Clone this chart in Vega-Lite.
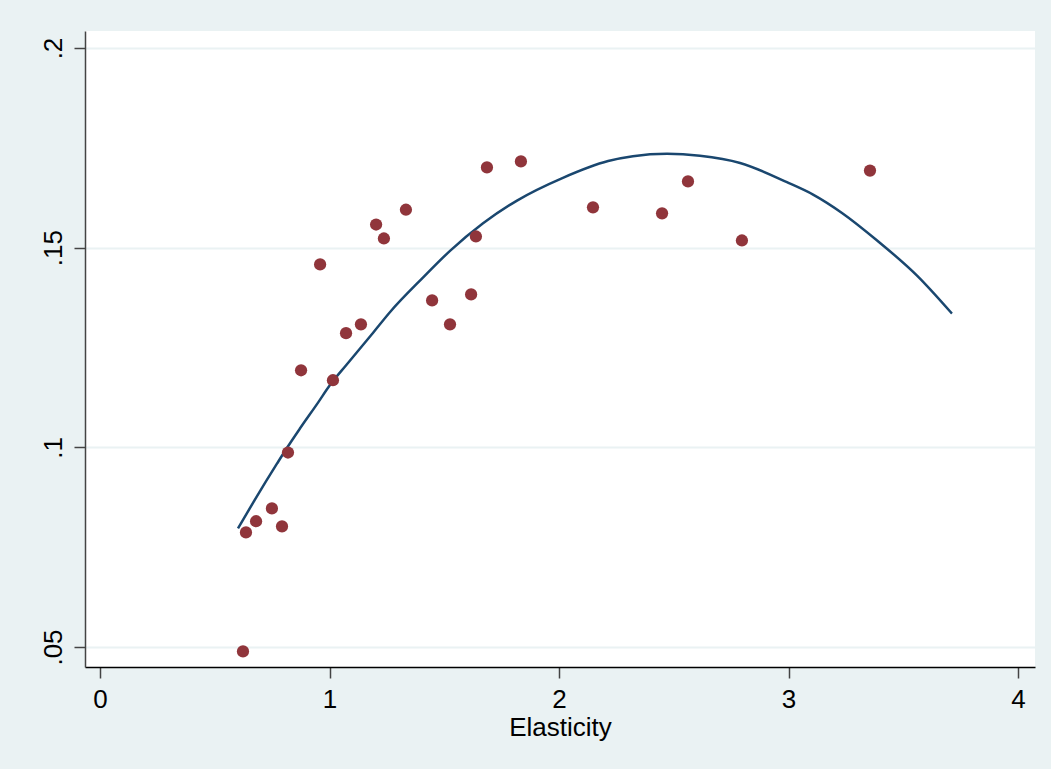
{
  "$schema": "https://vega.github.io/schema/vega-lite/v6.json",
  "width": 950,
  "height": 636,
  "autosize": {"type": "none"},
  "padding": {"left": 85, "top": 31, "right": 16, "bottom": 102},
  "background": "#EAF2F3",
  "config": {
    "view": {"fill": "white", "stroke": null},
    "font": "Liberation Sans"
  },
  "datasets": {
    "points": [
      {"elasticity": 0.623, "value": 0.0489},
      {"elasticity": 0.636, "value": 0.0787},
      {"elasticity": 0.680, "value": 0.0815},
      {"elasticity": 0.749, "value": 0.0847},
      {"elasticity": 0.793, "value": 0.0802},
      {"elasticity": 0.819, "value": 0.0987},
      {"elasticity": 0.876, "value": 0.1193},
      {"elasticity": 0.959, "value": 0.1458},
      {"elasticity": 1.015, "value": 0.1168},
      {"elasticity": 1.072, "value": 0.1286},
      {"elasticity": 1.137, "value": 0.1308},
      {"elasticity": 1.203, "value": 0.1558},
      {"elasticity": 1.237, "value": 0.1523},
      {"elasticity": 1.333, "value": 0.1595},
      {"elasticity": 1.447, "value": 0.1368},
      {"elasticity": 1.525, "value": 0.1308},
      {"elasticity": 1.617, "value": 0.1383},
      {"elasticity": 1.638, "value": 0.1528},
      {"elasticity": 1.686, "value": 0.1701},
      {"elasticity": 1.834, "value": 0.1716},
      {"elasticity": 2.148, "value": 0.1601},
      {"elasticity": 2.449, "value": 0.1586},
      {"elasticity": 2.562, "value": 0.1666},
      {"elasticity": 2.797, "value": 0.1518},
      {"elasticity": 3.355, "value": 0.1693}
    ],
    "fit": [
      {"elasticity": 0.601, "value": 0.0797},
      {"elasticity": 0.675, "value": 0.0869},
      {"elasticity": 0.771, "value": 0.0959},
      {"elasticity": 0.815, "value": 0.0999},
      {"elasticity": 0.871, "value": 0.1047},
      {"elasticity": 0.950, "value": 0.1112},
      {"elasticity": 1.002, "value": 0.1156},
      {"elasticity": 1.076, "value": 0.1208},
      {"elasticity": 1.190, "value": 0.1287},
      {"elasticity": 1.264, "value": 0.1339},
      {"elasticity": 1.407, "value": 0.1425},
      {"elasticity": 1.525, "value": 0.1492},
      {"elasticity": 1.669, "value": 0.1561},
      {"elasticity": 1.817, "value": 0.1618},
      {"elasticity": 2.017, "value": 0.1675},
      {"elasticity": 2.214, "value": 0.1717},
      {"elasticity": 2.322, "value": 0.1729},
      {"elasticity": 2.471, "value": 0.1735},
      {"elasticity": 2.614, "value": 0.1730},
      {"elasticity": 2.789, "value": 0.1712},
      {"elasticity": 2.993, "value": 0.1664},
      {"elasticity": 3.107, "value": 0.1633},
      {"elasticity": 3.233, "value": 0.1587},
      {"elasticity": 3.386, "value": 0.1518},
      {"elasticity": 3.560, "value": 0.1430},
      {"elasticity": 3.712, "value": 0.1335}
    ]
  },
  "encoding": {
    "x": {
      "field": "elasticity",
      "type": "quantitative",
      "scale": {"domain": [-0.0654, 4.074], "nice": false, "zero": false},
      "axis": {
        "values": [0, 1, 2, 3, 4],
        "grid": false,
        "title": "Elasticity",
        "titleFontSize": 26,
        "titleFontWeight": "normal",
        "titleColor": "black",
        "titlePadding": 2,
        "labelFontSize": 26,
        "labelColor": "black",
        "labelPadding": 8,
        "domainColor": "black",
        "domainWidth": 1.5,
        "tickColor": "#444444",
        "tickWidth": 1.5,
        "tickSize": 11
      }
    },
    "y": {
      "field": "value",
      "type": "quantitative",
      "scale": {"domain": [0.04499, 0.20426], "nice": false, "zero": false},
      "axis": {
        "values": [0.05, 0.1, 0.15, 0.2],
        "labelExpr": "replace(format(datum.value, '~g'), '0.', '.')",
        "title": null,
        "grid": true,
        "gridColor": "#EAF2F3",
        "gridWidth": 2,
        "labelAngle": -90,
        "labelAlign": "center",
        "labelBaseline": "bottom",
        "labelFontSize": 26,
        "labelColor": "black",
        "labelPadding": 8,
        "domainColor": "#444444",
        "domainWidth": 1.5,
        "tickColor": "#444444",
        "tickWidth": 1.5,
        "tickSize": 11
      }
    }
  },
  "layer": [
    {
      "data": {"name": "fit"},
      "mark": {"type": "line", "color": "#1A476F", "strokeWidth": 2.5, "interpolate": "monotone"}
    },
    {
      "data": {"name": "points"},
      "mark": {"type": "circle", "color": "#90353B", "opacity": 1, "size": 150}
    }
  ]
}
